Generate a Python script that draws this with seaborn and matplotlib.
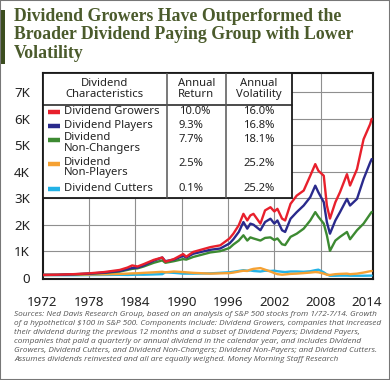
import pandas as pd
import matplotlib
matplotlib.use("Agg")
import matplotlib.pyplot as plt
from matplotlib.patches import Rectangle
import seaborn as sns

# Data (growth of $100, 1/72 - 7/14)
years = [1972, 1974, 1976, 1978, 1980, 1982, 1983, 1983.6, 1984.3, 1985.1,
         1986.4, 1987.5, 1987.9, 1989, 1990.2, 1990.6, 1991.5, 1993.7, 1995, 1996.2,
         1996.7, 1997.4, 1998.0, 1998.5, 1998.9, 1999.3, 2000.2, 2000.8, 2001.5, 2002.0,
         2002.4, 2003.0, 2003.4, 2004.1, 2004.9, 2005.8, 2006.65, 2007.3, 2007.7, 2008.4,
         2008.8, 2009.2, 2009.9, 2010.5, 2011.4, 2011.8, 2012.7, 2013.55, 2014.4, 2014.6]

growers = [100, 110, 130, 160, 210, 290, 380, 460, 420, 510,
           670, 760, 600, 700, 890, 790, 970, 1150, 1220, 1480,
           1660, 1980, 2410, 2160, 2350, 2410, 2040, 2540, 2660, 2500,
           2600, 2230, 2160, 2790, 3100, 3290, 3850, 4290, 4040, 3850,
           2730, 2230, 2850, 3230, 3910, 3480, 4100, 5230, 5800, 6000]

players = [100, 105, 125, 150, 190, 250, 320, 360, 380, 460,
           640, 760, 620, 680, 820, 760, 900, 1050, 1100, 1290,
           1450, 1725, 2100, 1850, 2040, 2000, 1790, 2100, 2225, 2040,
           2160, 1790, 1725, 2225, 2475, 2725, 3040, 3475, 3225, 2850,
           2100, 1660, 2160, 2475, 2975, 2725, 2975, 3725, 4350, 4480]

non_changers = [100, 105, 120, 145, 180, 230, 290, 330, 350, 420,
                560, 650, 560, 620, 700, 680, 780, 950, 1000, 1120,
                1250, 1400, 1600, 1400, 1520, 1480, 1400, 1500, 1520, 1420,
                1480, 1260, 1230, 1540, 1660, 1850, 2160, 2475, 2300, 2040,
                1600, 1010, 1400, 1540, 1725, 1450, 1790, 2040, 2400, 2480]

non_payers = [100, 100, 105, 115, 125, 140, 150, 160, 165, 180,
              200, 220, 200, 230, 210, 200, 180, 150, 160, 170,
              190, 230, 260, 250, 300, 330, 360, 300, 230, 170,
              130, 110, 120, 140, 150, 170, 190, 210, 200, 150,
              110, 100, 130, 140, 150, 130, 150, 190, 240, 250]

cutters = [100, 90, 90, 95, 100, 105, 100, 105, 110, 110,
           120, 130, 200, 180, 150, 150, 150, 160, 180, 200,
           220, 250, 280, 260, 270, 250, 230, 260, 250, 260,
           240, 220, 210, 230, 230, 220, 240, 280, 300, 200,
           120, 70, 70, 75, 75, 70, 70, 70, 75, 75]

groups = ["Dividend Growers", "Dividend Players", "Dividend\nNon-Changers",
          "Dividend\nNon-Players", "Dividend Cutters"]
ann_return = ["10.0%", "9.3%", "7.7%", "2.5%", "0.1%"]
ann_volatility = ["16.0%", "16.8%", "18.1%", "25.2%", "25.2%"]
colors = ["#e8202c", "#2a2a8c", "#3d8a32", "#f5a133", "#23b2e6"]

x_ticks = [1972, 1978, 1984, 1990, 1996, 2002, 2008, 2014]
y_ticks = [0, 1000, 2000, 3000, 4000, 5000, 6000, 7000]
y_labels = ["0", "1K", "2K", "3K", "4K", "5K", "6K", "7K"]

df = pd.DataFrame({"Year": years,
                   groups[0]: growers, groups[1]: players, groups[2]: non_changers,
                   groups[3]: non_payers, groups[4]: cutters})
long_df = df.melt(id_vars="Year", var_name="Group", value_name="Value")

sns.set_style("white")
plt.rcParams["font.family"] = ["Noto Sans", "DejaVu Sans"]

fig = plt.figure(figsize=(3.9, 3.8), dpi=100)
ax = fig.add_axes([0.109, 0.266, 0.847, 0.543])

draw_order = [groups[4], groups[3], groups[2], groups[1], groups[0]]
palette = dict(zip(groups, colors))
sns.lineplot(data=long_df, x="Year", y="Value", hue="Group", hue_order=draw_order,
             palette=palette, linewidth=1.7, legend=False, ax=ax, zorder=3)

ax.set_xlim(1972, 2014.75)
ax.set_ylim(-50, 7750)
ax.set_xticks(x_ticks)
ax.set_yticks(y_ticks)
ax.set_yticklabels(y_labels)
ax.set_xlabel("")
ax.set_ylabel("")
ax.tick_params(length=0, labelsize=9.6, colors="#222222")
ax.tick_params(axis="x", pad=12)
ax.tick_params(axis="y", pad=9)

# grid
for yv in y_ticks[1:]:
    ax.axhline(yv, color="#8f8f8f", lw=0.8, zorder=1)
for xv in x_ticks[1:-1]:
    ax.axvline(xv, color="#8f8f8f", lw=0.8, zorder=1)
for s in ax.spines.values():
    s.set_color("#1a1a1a")
    s.set_linewidth(1.5)

# table / legend in the upper left
tx1, tx2, tx3 = 0.376, 0.555, 0.754
tb, th = 0.394, 0.843
ax.add_patch(Rectangle((0, tb), tx3, 1 - tb, transform=ax.transAxes,
                       facecolor="white", edgecolor="#1a1a1a", lw=1.3, zorder=6, clip_on=False))
ax.plot([0, tx3], [th, th], transform=ax.transAxes, color="#1a1a1a", lw=1.1, zorder=7)
for xx in (tx1, tx2):
    ax.plot([xx, xx], [tb, 1], transform=ax.transAxes, color="#555555", lw=1.1, zorder=7)

fs = 8.1
ax.text(tx1 / 2, 0.921, "Dividend\nCharacteristics", transform=ax.transAxes, ha="center",
        va="center", fontsize=fs, linespacing=1.0, zorder=8, color="#222222")
ax.text((tx1 + tx2) / 2, 0.921, "Annual\nReturn", transform=ax.transAxes, ha="center",
        va="center", fontsize=fs, linespacing=1.0, zorder=8, color="#222222")
ax.text((tx2 + tx3) / 2, 0.921, "Annual\nVolatility", transform=ax.transAxes, ha="center",
        va="center", fontsize=fs, linespacing=1.0, zorder=8, color="#222222")

row_y = [0.809, 0.742, 0.674, 0.557, 0.436]
for g, r, v, c, yy in zip(groups, ann_return, ann_volatility, colors, row_y):
    ax.plot([0.017, 0.052], [yy, yy], transform=ax.transAxes, color=c, lw=3.2,
            solid_capstyle="butt", zorder=8)
    two_line = "\n" in g
    ax.text(0.064, yy + (0.036 if two_line else 0), g, transform=ax.transAxes, ha="left",
            va="top" if two_line else "center",
            fontsize=fs, linespacing=0.9, zorder=8, color="#222222")
    ax.text(0.413, yy, r, transform=ax.transAxes, ha="left", va="center",
            fontsize=fs, zorder=8, color="#222222")
    ax.text(0.607, yy, v, transform=ax.transAxes, ha="left", va="center",
            fontsize=fs, zorder=8, color="#222222")

# title
fig.text(14 / 390, 1 - 8 / 380,
         "Dividend Growers Have Outperformed the\nBroader Dividend Paying Group with Lower\nVolatility",
         ha="left", va="top", fontsize=12.8, fontweight="bold", color="#4b5b2c",
         family=["Liberation Serif", "DejaVu Serif"], linespacing=1.1)
fig.add_artist(Rectangle((0, 1 - 64 / 380), 5 / 390, 54 / 380, transform=fig.transFigure,
                         facecolor="#3c4d1f", edgecolor="none"))
fig.add_artist(Rectangle((0, 0), 1, 1, transform=fig.transFigure, facecolor="none",
                         edgecolor="#777777", lw=1.5))

# source note
note = ("Sources: Ned Davis Research Group, based on an analysis of S&P 500 stocks from 1/72-7/14. Growth\n"
        "of a hypothetical \\$100 in S&P 500. Components include: Dividend Growers, companies that increased\n"
        "their dividend during the previous 12 months and a subset of Dividend Payers; Dividend Payers,\n"
        "companies that paid a quarterly or annual dividend in the calendar year, and includes Dividend\n"
        "Growers, Dividend Cutters, and Dividend Non-Changers; Dividend Non-Payers; and Dividend Cutters.\n"
        "Assumes dividends reinvested and all are equally weighed. Money Morning Staff Research")
fig.text(14 / 390, 1 - 311 / 380, note, ha="left", va="top", fontsize=5.95, style="italic",
         color="#555555", family=["Open Sans", "DejaVu Sans"], linespacing=1.4)

fig.savefig("out.png", dpi=100, facecolor="white")
